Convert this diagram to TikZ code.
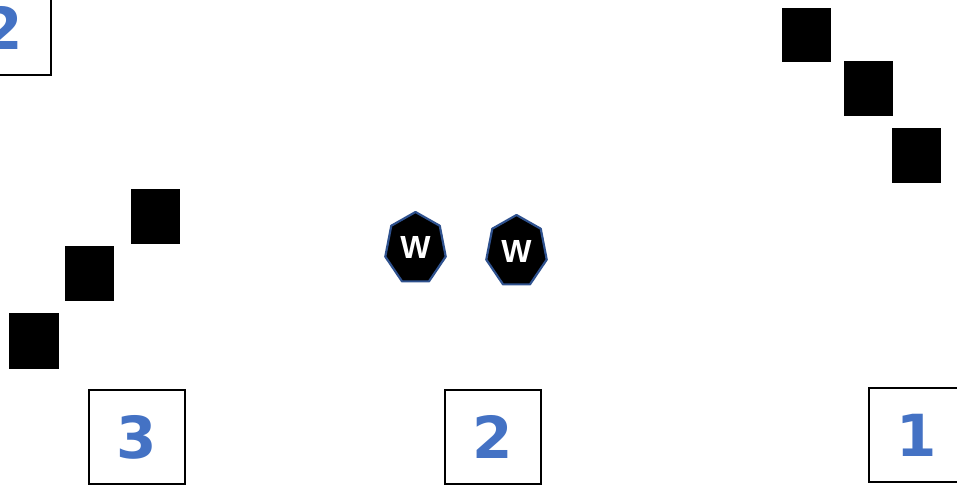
\documentclass[tikz,border=0pt]{standalone}
\usepackage{fontspec}
\setmainfont{DejaVu Sans}
\newfontfamily\wfont{Liberation Sans}
\usetikzlibrary{shapes.geometric}
\definecolor{digitblue}{HTML}{4472C4}
\definecolor{heptedge}{HTML}{2F528F}
\tikzset{
  numbox/.style={draw=black, line width=1.5pt, minimum width=96pt, minimum height=94pt, inner sep=0pt,
    font=\fontsize{58}{58}\selectfont\bfseries, text=digitblue},
  blk/.style={fill=black, draw=none},
  hept/.style={fill=black, draw=heptedge, line width=2.2pt, line join=round},
  wlabel/.style={text=white, font={\wfont\bfseries\fontsize{32}{32}\selectfont}, inner sep=0pt}
}
\begin{document}
\begin{tikzpicture}[x=1pt, y=-1pt]
\useasboundingbox (0,0) rectangle (957,485);
\clip (0,0) rectangle (957,485);
% number boxes
\node[numbox] (b2top) at (3,28) {2};
\node[numbox] (b3) at (137,437) {3};
\node[numbox] (b2) at (493,437) {2};
\node[numbox] (b1) at (917,435) {1};
% black squares
\path[blk] (782,8) rectangle (831,62);
\path[blk] (844,61) rectangle (893,116);
\path[blk] (892,128) rectangle (941,183);
\path[blk] (131,189) rectangle (180,244);
\path[blk] (65,246) rectangle (114,301);
\path[blk] (9,313) rectangle (59,369);
% heptagons
\foreach \cx/\cy in {415.5/248.5, 516.5/251.5}{
  \draw[hept] ({\cx},{\cy-36.5})
    \foreach \k in {1,...,6}{ -- ({\cx+31*cos(90+\k*360/7)},{\cy-36.5*sin(90+\k*360/7)}) } -- cycle;
}
\node[wlabel] (wA) at (415.5,247.5) {W};
\node[wlabel] (wB) at (516.5,251) {W};
\end{tikzpicture}
\end{document}
